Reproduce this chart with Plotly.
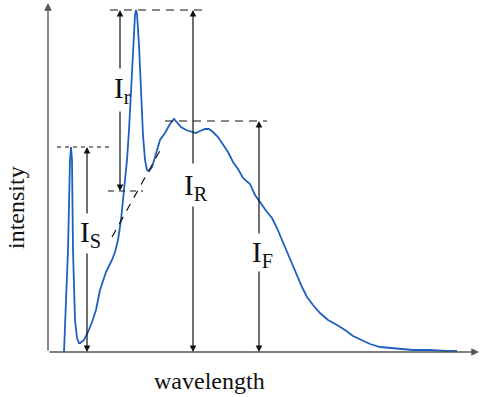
import plotly.graph_objects as go

# ---- data (arbitrary units) ----
wavelength = [16, 20, 22, 23, 24, 25, 27, 29, 31, 32, 36, 40, 44, 48, 52, 55, 58, 61, 64, 67,
              70, 73, 76, 79, 81, 83, 85, 87, 88, 89, 91, 93, 95, 97, 99, 101, 104, 107, 110,
              112, 117, 122, 126, 129, 133, 138, 144, 148, 152, 157, 161, 165, 170, 175, 180,
              185, 190, 195, 202, 207, 211, 215, 219, 224, 229, 234, 239, 244, 249, 254, 259,
              265, 272, 280, 289, 297, 305, 314, 322, 332, 342, 352, 365, 382, 397, 409]
intensity = [0, 102, 192, 205, 192, 102, 32, 14, 9, 9, 12, 20, 30, 42, 62, 72, 80, 86, 92, 100,
             112, 132, 161, 192, 222, 262, 307, 337, 342, 338, 307, 262, 217, 192, 182, 181,
             185, 195, 205, 212, 219, 228, 233, 230, 225, 222, 220, 219, 221, 223, 223, 220,
             215, 208, 200, 190, 183, 174, 168, 157, 151, 145, 140, 134, 124, 112, 100, 89,
             76, 65, 55, 47, 39, 32, 27, 22, 16, 12, 8, 5, 4, 3, 2, 2, 1, 1]

level_S = 205      # scattering peak height
level_R = 342      # Raman peak height
level_r_base = 161 # baseline under Raman peak
level_F = 231      # fluorescence maximum

fig = go.Figure()
fig.add_trace(go.Scatter(x=wavelength, y=intensity, mode="lines",
                         line=dict(color="#1f5fc0", width=1.8), hoverinfo="skip",
                         showlegend=False))

dash_style = dict(color="#111111", width=1.2)
# dashed guide lines
fig.add_shape(type="line", x0=62, x1=155, y0=level_R, y1=level_R,
              line=dict(dash="8px,6px", **dash_style))
fig.add_shape(type="line", x0=60, x1=95, y0=level_r_base, y1=level_r_base,
              line=dict(dash="6px,5px", **dash_style))
fig.add_shape(type="line", x0=64, x1=114, y0=115, y1=205,
              line=dict(dash="8px,7px", **dash_style))
fig.add_shape(type="line", x0=9, x1=62, y0=level_S, y1=level_S,
              line=dict(dash="4px,4px", **dash_style))
fig.add_shape(type="line", x0=117, x1=219, y0=level_F, y1=level_F,
              line=dict(dash="8px,6px", **dash_style))

anns = []

def arrow(x, y, ax, ay, color="#111111", width=1.2):
    anns.append(dict(x=x, y=y, ax=ax, ay=ay, xref="x", yref="y", axref="x", ayref="y",
                     text="", showarrow=True, arrowhead=2, arrowsize=1.1,
                     arrowwidth=width, arrowcolor=color))

# axes
arrow(431, 0, 0, 0, color="#555555", width=1.4)
arrow(0, 349, 0, 0, color="#555555", width=1.4)

# I_r
arrow(72, level_R, 72, 282)
arrow(72, level_r_base, 72, 242)
# I_S
arrow(39, level_S, 39, 137)
arrow(39, 0, 39, 100)
# I_R
arrow(145, level_R, 145, 187)
arrow(145, 0, 145, 147)
# I_F
arrow(211, level_F, 211, 117)
arrow(211, 0, 211, 82)

label_font = dict(family="Liberation Serif", size=29, color="#111111")
for txt, x, y in [("I<sub>r</sub>", 74, 262), ("I<sub>S</sub>", 42, 118),
                  ("I<sub>R</sub>", 148, 165), ("I<sub>F</sub>", 214, 98)]:
    anns.append(dict(x=x, y=y, xref="x", yref="y", text=txt, showarrow=False,
                     font=label_font))

axis_font = dict(family="Liberation Serif", size=24, color="#111111")
anns.append(dict(x=0.3767, y=-0.083, xref="paper", yref="paper", text="wavelength",
                 xanchor="center", yanchor="middle", showarrow=False, font=axis_font))
anns.append(dict(x=-0.0744, y=0.4126, xref="paper", yref="paper", text="intensity",
                 xanchor="center", yanchor="middle", showarrow=False, textangle=-90,
                 font=axis_font))

fig.update_layout(
    width=484, height=397,
    margin=dict(l=48, r=6, t=3, b=45),
    paper_bgcolor="white", plot_bgcolor="white",
    xaxis=dict(range=[0, 430], visible=False),
    yaxis=dict(range=[0, 349], visible=False),
    annotations=anns,
)

fig.write_html("out.html", config={"displayModeBar": False},
               post_script="document.body.style.margin='0';document.body.style.overflow='hidden';")
